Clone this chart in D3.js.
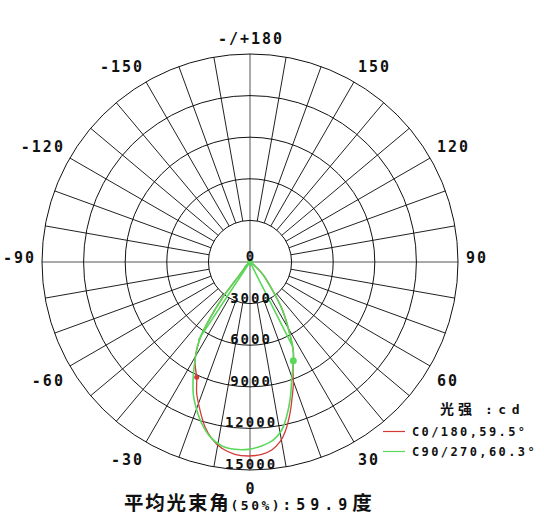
<!DOCTYPE html>
<html><head><meta charset="utf-8">
<script src="https://cdn.jsdelivr.net/npm/d3@7/dist/d3.min.js"></script>
<style>body{margin:0;background:#fff}svg{display:block}</style></head>
<body><svg id="c" width="544" height="525"></svg>
<script>
// ---- data ----
const ringValues = [0, 3000, 6000, 9000, 12000, 15000];
const ringLabels = ["0", "3000", "6000", "9000", "12000", "15000"];
const angleTicks = [180, 150, 120, 90, 60, 30, 0, -30, -60, -90, -120, -150];
const angleLabels = ["-/+180", "150", "120", "90", "60", "30", "0", "-30", "-60", "-90", "-120", "-150"];

// C0/180 plane (gamma angle in degrees, intensity in cd)
const c0Angles = [-90, -60, -50, -45, -42, -39, -38, -37.5, -35.4, -33.2, -29.3, -27, -24.8, -22.1, -18.7, -15.3, -12.3, -8.6, -4.5, -0.5, 3.5, 6.6, 9.5, 11.7, 14.8, 17.4, 19.4, 21.7, 23.1, 25.8, 30, 34.4, 38.1, 45.6, 50, 55, 60, 90];
const c0Values = [0, 0, 150, 500, 600, 1200, 2500, 3300, 4970, 6580, 8100, 8650, 9160, 10220, 11260, 12310, 13010, 13590, 13910, 13990, 13900, 13650, 13140, 12500, 11290, 10180, 9400, 8380, 7940, 7180, 5520, 4050, 2720, 1340, 600, 200, 0, 0];

// C90/270 plane
const c90Angles = [-90, -60, -50, -45, -42, -39, -38, -37.5, -35.4, -33.2, -29.3, -23.4, -19.8, -16.7, -12.9, -8.7, -4.6, -0.5, 3.6, 7.5, 10.7, 13.3, 16.2, 19.5, 23.1, 25.8, 30, 34.4, 38.1, 45.6, 50, 55, 60, 90];
const c90Values = [0, 0, 150, 500, 600, 1200, 2500, 3300, 4970, 6580, 8100, 10310, 11340, 12140, 12920, 13420, 13550, 13510, 13290, 12940, 12330, 11460, 10360, 9020, 7940, 7180, 5520, 4050, 2720, 1340, 600, 200, 0, 0];

const c90BeamAngles = [-33.5, 26.8];
const c90HalfValue = 6775;
const c0Marker = [-24.8, 9160];
const c90Marker = [23.7, 7770];

const legendNames = ["C0/180,59.5°", "C90/270,60.3°"];
const legendColors = ["#d23a3a", "#5ad85a"];
const unitParts = ["光", "强", ":cd"];
const titleParts = ["平均光束角", "(50%)", ":59.9", "度"];

// ---- drawing ----
const svg = d3.select("#c");
const cx = 250, cy = 262;
const r = d3.scaleLinear().domain([0, 15000]).range([0, 208]);
const rad = a => a * Math.PI / 180;
const pos = (a, v) => [cx + r(v) * Math.sin(rad(a)), cy + r(v) * Math.cos(rad(a))];
const mono = "'DejaVu Sans Mono', monospace";
const cjk = "'Noto Sans CJK SC', sans-serif";

const grid = svg.append("g");
// spokes every 10 degrees
d3.range(-180, 180, 10).forEach(a => {
  const axis = (a % 90 === 0);
  const p0 = pos(a, axis ? 0 : ringValues[1]);
  const p1 = pos(a, ringValues[ringValues.length - 1]);
  grid.append("line").attr("x1", p0[0]).attr("y1", p0[1]).attr("x2", p1[0]).attr("y2", p1[1])
    .attr("stroke", axis ? "#555" : "#222").attr("stroke-width", 1);
});
// rings
ringValues.slice(1).forEach(v => {
  grid.append("circle").attr("cx", cx).attr("cy", cy).attr("r", r(v))
    .attr("fill", "none").attr("stroke", "#111").attr("stroke-width", 1);
});

// curves
const radial = d3.lineRadial()
  .angle(d => Math.PI - rad(d[0]))
  .radius(d => r(d[1]))
  .curve(d3.curveCatmullRom.alpha(0.5));
const gc = svg.append("g").attr("transform", `translate(${cx},${cy})`);
gc.append("path").attr("d", radial(d3.zip(c0Angles, c0Values)))
  .attr("fill", "none").attr("stroke", legendColors[0]).attr("stroke-width", 1.3);
gc.append("path").attr("d", radial(d3.zip(c90Angles, c90Values)))
  .attr("fill", "none").attr("stroke", legendColors[1]).attr("stroke-width", 1.6);
// beam-angle lines
c90BeamAngles.forEach(a => {
  const p = pos(a, c90HalfValue);
  svg.append("line").attr("x1", cx).attr("y1", cy).attr("x2", p[0]).attr("y2", p[1])
    .attr("stroke", legendColors[1]).attr("stroke-width", 1.6);
});
// markers
svg.append("circle").attr("cx", cx).attr("cy", cy).attr("r", 3).attr("fill", legendColors[1]);
let pm = pos(c0Marker[0], c0Marker[1]);
svg.append("circle").attr("cx", pm[0]).attr("cy", pm[1]).attr("r", 2.5).attr("fill", legendColors[0]);
pm = pos(c90Marker[0], c90Marker[1]);
svg.append("circle").attr("cx", pm[0]).attr("cy", pm[1]).attr("r", 3.5).attr("fill", legendColors[1]);

// ring labels
ringValues.forEach((v, i) => {
  svg.append("text").attr("x", cx + 1).attr("y", cy + r(v) - 1)
    .attr("text-anchor", "middle").attr("font-family", mono).attr("font-weight", "bold")
    .attr("font-size", 14).attr("letter-spacing", 2).attr("fill", "#111").text(ringLabels[i]);
});

// angle labels
angleTicks.forEach((a, i) => {
  const t = angleLabels[i];
  const p = pos(a, r.invert(216));
  const s = Math.sin(rad(a)), c = Math.cos(rad(a));
  const anchor = s > 0.01 ? "start" : (s < -0.01 ? "end" : "middle");
  const dx = anchor === "end" ? 2 : (anchor === "middle" ? 1 : 0);
  const dy = c > 0.01 ? 10.5 : (c < -0.01 ? -7.5 : -4);
  svg.append("text").attr("x", p[0] + dx).attr("y", p[1] + dy)
    .attr("text-anchor", anchor).attr("dominant-baseline", "central")
    .attr("font-family", mono).attr("font-weight", "bold").attr("font-size", 15)
    .attr("letter-spacing", 2).attr("fill", "#111").text(t);
});

// legend
const lg = svg.append("g");
const ux = [440, 458, 485];
unitParts.forEach((t, i) => {
  lg.append("text").attr("x", ux[i]).attr("y", 414)
    .attr("font-family", i < 2 ? cjk : mono).attr("font-weight", "bold")
    .attr("font-size", i < 2 ? 14 : 13).attr("letter-spacing", i < 2 ? 0 : 5.5)
    .attr("fill", "#111").text(t);
});
legendNames.forEach((t, i) => {
  const y = 431.5 + i * 20;
  lg.append("line").attr("x1", 383).attr("x2", 405).attr("y1", y).attr("y2", y)
    .attr("stroke", legendColors[i]).attr("stroke-width", 1.2);
  lg.append("text").attr("x", 412).attr("y", y + 4.5)
    .attr("font-family", mono).attr("font-weight", "bold").attr("font-size", 12)
    .attr("letter-spacing", 2.4).attr("fill", "#111").text(t);
});

// title
const tt = svg.append("text").attr("x", 124).attr("y", 510).attr("fill", "#111").attr("font-weight", "bold");
tt.append("tspan").attr("font-family", cjk).attr("font-size", 19.5).attr("letter-spacing", 1.8).text(titleParts[0]);
tt.append("tspan").attr("font-family", mono).attr("font-size", 13).attr("letter-spacing", 2.5).text(titleParts[1]);
tt.append("tspan").attr("font-family", mono).attr("font-size", 15).attr("letter-spacing", 5).text(titleParts[2]);
tt.append("tspan").attr("font-family", cjk).attr("font-size", 19.5).text(titleParts[3]);
</script>
</body></html>
